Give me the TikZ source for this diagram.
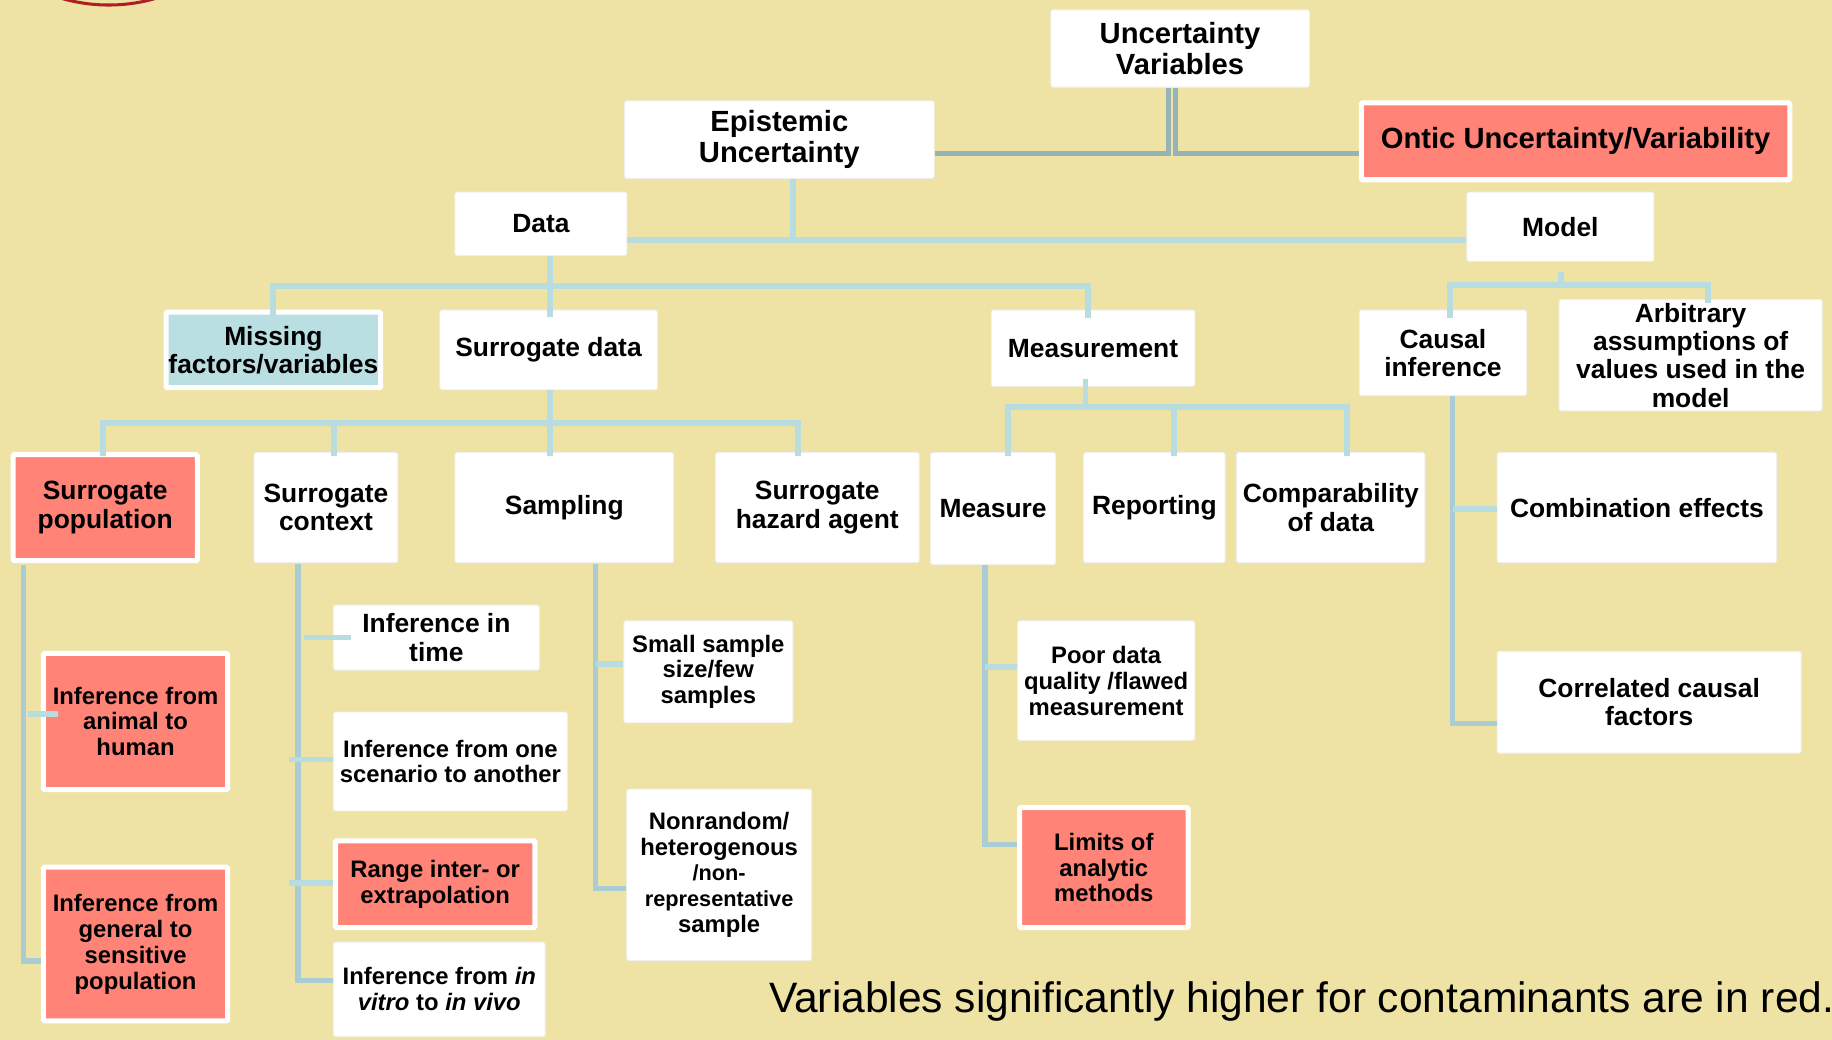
\documentclass[tikz,border=0pt]{standalone}
\usepackage{fontspec}
\setmainfont{Liberation Sans}
\definecolor{bg}{HTML}{EEE3A4}
\definecolor{redf}{HTML}{FF8376}
\definecolor{lblue}{HTML}{B7DDE1}
\definecolor{vblue}{HTML}{A9CDD3}
\definecolor{dline}{HTML}{96B3B8}
\definecolor{missf}{HTML}{B9DFE2}
\definecolor{arcred}{HTML}{B01E23}
\tikzset{
  box/.style={draw=white!94!black, line width=0.8pt, fill=white, rounded corners=1.5pt, inner sep=0pt, align=center, text=black},
  redbox/.style={box, draw=white, line width=4.3pt, fill=redf, rounded corners=1pt},
  missbox/.style={box, draw=white, line width=4.3pt, fill=missf, rounded corners=1pt},
  fbig/.style={font=\bfseries\fontsize{25}{27}\selectfont},
  fnorm/.style={font=\bfseries\fontsize{22.6}{24.3}\selectfont},
  fsmall/.style={font=\bfseries\fontsize{20.4}{22.2}\selectfont},
  conn/.style={draw=lblue, line width=5pt},
  vconn/.style={draw=vblue, line width=4.5pt},
  topconn/.style={draw=dline, line width=3.9pt},
}
\newcommand{\bx}[8]{\node[#1, minimum width={#6-#4-#2}, minimum height={#7-#5-#2}] (#3) at ({(#4+#6)/2},{(#5+#7)/2}) {#8};}
\begin{document}
\begin{tikzpicture}[x=1pt,y=-1pt]
\useasboundingbox (0,0) rectangle (1568,890);
\fill[bg] (0,0) rectangle (1568,890);
\begin{scope}
\clip (0,0) rectangle (1568,890);
\draw[arcred, line width=2.6pt] (93,-140.3) circle[radius=144.6];
\end{scope}

% boxes
\bx{box,fbig}{0.8}{uv}{899}{8}{1121}{75}{Uncertainty\\Variables}
\bx{box,fbig}{0.8}{epi}{534}{86}{800}{153}{Epistemic\\Uncertainty}
\bx{redbox,fbig}{4.3}{ontic}{1163}{86}{1534}{156}{Ontic Uncertainty/Variability}
\bx{box,fnorm}{0.8}{data}{389}{164}{537}{219}{Data}
\bx{box,fnorm}{0.8}{model}{1255}{164}{1416}{224}{Model}
\bx{missbox,fnorm}{4.3}{missing}{140}{265}{328}{334}{Missing\\factors/variables}
\bx{box,fnorm}{0.8}{sdata}{376}{265}{563}{334}{Surrogate data}
\bx{box,fnorm}{0.8}{meas}{848}{265}{1023}{331}{Measurement}
\bx{box,fnorm}{0.8}{causal}{1163}{265}{1307}{339}{Causal\\inference}
\bx{box,fnorm}{0.8}{arb}{1334}{256}{1560}{352}{Arbitrary\\assumptions of\\values used in the\\model}
\bx{redbox,fnorm}{4.3}{spop}{9}{387}{171}{482}{Surrogate\\population}
\bx{box,fnorm}{0.8}{sctx}{217}{387}{341}{482}{Surrogate\\context}
\bx{box,fnorm}{0.8}{samp}{389}{387}{577}{482}{Sampling}
\bx{box,fnorm}{0.8}{shaz}{612}{387}{787}{482}{Surrogate\\hazard agent}
\bx{box,fnorm}{0.8}{measure}{796}{387}{904}{483.6}{Measure}
\bx{box,fnorm}{0.8}{rep}{927}{387}{1049}{482}{Reporting}
\bx{box,fnorm}{0.8}{comp}{1058}{387}{1220}{482}{Comparability\\of data}
\bx{box,fnorm}{0.8}{comb}{1281}{387}{1521}{482}{Combination effects}
\bx{box,fnorm}{0.8}{corr}{1281}{557}{1542}{645}{Correlated causal\\factors}
\bx{box,fnorm}{0.8}{intime}{285}{517.5}{462}{574}{Inference in\\time}
\bx{box,fsmall}{0.8}{scen}{285}{609}{486}{694.5}{Inference from one\\scenario to another}
\bx{redbox,fsmall}{4.3}{range}{285}{717.5}{460}{796}{Range inter- or\\extrapolation}
\bx{box,fsmall}{0.8}{vitro}{285}{806}{467}{887.6}{Inference from \textit{in}\\\textit{vitro} to \textit{in vivo}}
\bx{box,fsmall}{0.8}{small}{533.5}{531}{679}{619}{Small sample\\size/few\\samples}
\bx{box,fsmall}{0.8}{nonr}{536}{675}{695}{822.5}{Nonrandom/\\heterogenous\\{\fontsize{18.6}{22.2}\selectfont /non-}\\{\fontsize{18.6}{22.2}\selectfont representative}\\sample}
\bx{redbox,fsmall}{4.3}{animal}{35}{557}{197}{678}{Inference from\\animal to\\human}
\bx{redbox,fsmall}{4.3}{general}{35}{740}{197}{876}{Inference from\\general to\\sensitive\\population}
\bx{box,fsmall}{0.8}{poor}{870.5}{531}{1023}{634}{Poor data\\quality /flawed\\measurement}
\bx{redbox,fsmall}{4.3}{limits}{870.5}{689}{1019}{796}{Limits of\\analytic\\methods}

% top connectors
\coordinate (ja) at (1000,131.4);
\coordinate (jb) at (1006,131.4);
\draw[topconn] (ja |- uv.south) -- (ja) -- (ja -| epi.east);
\draw[topconn] (jb |- uv.south) -- (jb) -- (jb -| ontic.west);

% epistemic
\coordinate (jep) at (679,205.5);
\draw[conn] (jep |- epi.south) -- (jep);
\draw[conn] (data.east |- jep) -- (model.west |- jep);

% data
\coordinate (jd) at (470.7,245);
\coordinate (ld1) at (234,271);
\coordinate (ld2) at (470.7,271);
\coordinate (ld3) at (931,272);
\draw[conn] (jd |- data.south) -- (ld2);
\draw[conn] (ld1) |- (jd) -| (ld3);

% model
\coordinate (jm0) at (1336,233);
\coordinate (jm) at (1336,244);
\coordinate (lm1) at (1241,272);
\coordinate (lm2) at (1462,259);
\draw[conn] (jm0) -- (jm);
\draw[conn] (lm1) |- (jm) -| (lm2);

% surrogate data
\coordinate (js) at (470.6,362);
\coordinate (ls1) at (88,390);
\coordinate (ls2) at (286,390);
\coordinate (ls3) at (470.6,390);
\coordinate (ls4) at (683,390);
\draw[conn] (js |- sdata.south) -- (ls3);
\draw[conn] (ls1) |- (js) -| (ls4);
\draw[conn] (ls2) -- (ls2 |- js);

% measurement
\coordinate (jme0) at (929,324);
\coordinate (jme) at (929,348);
\coordinate (lq1) at (863,390);
\coordinate (lq2) at (1005,390);
\coordinate (lq3) at (1153,390);
\draw[conn] (jme0) -- (jme);
\draw[conn] (lq1) |- (jme) -| (lq3);
\draw[conn] (lq2) -- (lq2 |- jme);

% surrogate population
\coordinate (p0) at (20,484);
\coordinate (p1) at (20,822.5);
\coordinate (pa) at (24,611);
\coordinate (pb) at (50,611);
\draw[vconn] (p0) -- (p1) -- (p1 -| general.west);
\draw[conn] (pa) -- (pb);

% surrogate context
\coordinate (c0) at (255,483);
\coordinate (c1) at (255,839.5);
\coordinate (ca) at (260,545.6);
\coordinate (cb) at (300,545.6);
\coordinate (cc) at (247,650);
\coordinate (cd) at (247,755.4);
\draw[vconn] (c0) -- (c1) -- (c1 -| vitro.west);
\draw[conn] (ca) -- (cb);
\draw[conn] (cc) -- (cc -| scen.west);
\draw[conn] (cd) -- (cd -| range.west);

% sampling
\coordinate (s0) at (509.7,483);
\coordinate (s1) at (509.7,760.5);
\coordinate (sa) at (509.7,568);
\draw[vconn] (s0) -- (s1) -- (s1 -| nonr.west);
\draw[conn] (sa) -- (sa -| small.west);

% measure
\coordinate (q0) at (843,483.6);
\coordinate (q1) at (843,723);
\coordinate (qa) at (843,571);
\draw[vconn] (q0) -- (q1) -- (q1 -| limits.west);
\draw[conn] (qa) -- (qa -| poor.west);

% causal
\coordinate (k0) at (1243.4,339);
\coordinate (k1) at (1243.4,619);
\coordinate (ka) at (1243.4,436);
\draw[vconn] (k0) -- (k1) -- (k1 -| corr.west);
\draw[conn] (ka) -- (ka -| comb.west);

\node[anchor=base west, inner sep=0pt, font=\fontsize{36.4}{40}\selectfont] (note) at (658,867) {Variables significantly higher for contaminants are in red.};
\end{tikzpicture}
\end{document}
